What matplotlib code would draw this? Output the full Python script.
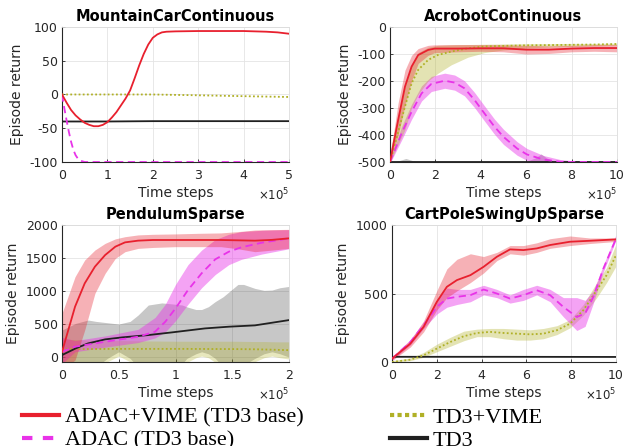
import matplotlib
matplotlib.use('Agg')
import matplotlib.pyplot as plt
from matplotlib.lines import Line2D
from matplotlib.ticker import FuncFormatter

plt.rcParams['font.family'] = 'DejaVu Sans'
plt.rcParams['axes.unicode_minus'] = False

# colours for the four methods
RED = '#e8202e'
MAG = '#e833e8'
OLV = '#b0b026'
BLK = '#202020'

# ---------------- MountainCarContinuous (x in 1e5 steps) ----------------
mc_red_x = [0, 0.1, 0.2, 0.3, 0.4, 0.5, 0.6, 0.7, 0.8, 0.9, 1.0, 1.1, 1.2, 1.3, 1.4,
            1.5, 1.6, 1.7, 1.8, 1.9, 2.0, 2.1, 2.2, 2.3, 2.5, 3.0, 3.5, 4.0, 4.5, 4.75, 5.0]
mc_red = [0, -12, -23, -31, -37, -42, -45, -47, -47, -45, -41, -34, -26, -16, -6,
          6, 24, 43, 60, 74, 84, 89, 92, 93, 93.5, 94, 94, 94, 93, 92, 90]
mc_mag_x = [0, 0.05, 0.1, 0.15, 0.2, 0.25, 0.3, 0.35, 0.4, 0.5, 5.0]
mc_mag = [0, -20, -38, -55, -70, -82, -90, -95, -98, -100, -100]
mc_olv_x = [0, 1, 2, 3, 4, 5]
mc_olv = [0, 0, 0, -1.2, -2.5, -3.7]
mc_blk_x = [0, 1, 2, 3, 4, 5]
mc_blk = [-40, -40, -39.5, -39.5, -39.5, -39.5]

# ---------------- AcrobotContinuous ----------------
ac_red_x = [0, 0.36, 0.66, 0.95, 1.24, 1.68, 1.97, 3, 4, 5, 6, 7, 8, 9, 10]
ac_red = [-500, -344, -221, -147, -104, -85, -80, -80, -79, -79, -84, -84, -80, -78, -78]
ac_red_hi = [-480, -280, -160, -105, -80, -68, -66, -65, -65, -66, -68, -70, -68, -65, -65]
ac_red_lo = [-500, -400, -290, -200, -135, -105, -95, -92, -90, -92, -100, -98, -92, -90, -92]
ac_olv_x = [0, 0.66, 0.95, 1.24, 1.68, 2.1, 2.7, 3.43, 4.16, 5, 6, 7, 8, 9, 10]
ac_olv = [-500, -295, -209, -159, -122, -104, -91, -79, -72, -70, -68, -67, -66, -65, -63]
ac_olv_hi = [-460, -220, -140, -95, -75, -68, -66, -65, -64, -63, -62, -62, -61, -61, -60]
ac_olv_lo = [-500, -380, -300, -250, -200, -172, -140, -112, -95, -85, -78, -74, -72, -70, -68]
ac_mag_x = [0, 0.51, 0.95, 1.39, 1.82, 2.41, 2.85, 3.28, 3.72, 4.16, 4.6, 5.0, 5.6, 6.03,
            6.76, 7.5, 8, 9, 10]
ac_mag = [-500, -394, -314, -246, -211, -199, -206, -227, -270, -320, -369, -407, -450, -472,
          -491, -499, -500, -500, -500]
ac_mag_sd = [5, 25, 28, 28, 28, 28, 28, 28, 28, 28, 28, 28, 25, 22, 15, 8, 5, 3, 0]
ac_blk_x = [0, 0.4, 0.7, 1.0, 1.5, 6.0, 6.4, 6.65, 6.9, 7.3, 10]
ac_blk = [-499, -499, -499, -499, -499, -499, -499, -499, -499, -499, -499]
ac_blk_hi = [-500, -495, -487, -495, -500, -498, -485, -470, -485, -500, -500]

# ---------------- PendulumSparse ----------------
pe_red_x = [0, 0.115, 0.2, 0.29, 0.38, 0.47, 0.555, 0.67, 0.8, 1.0, 1.2, 1.4, 1.55, 1.7, 1.85, 2.0]
pe_red = [80, 763, 1116, 1369, 1545, 1672, 1737, 1763, 1773, 1773, 1773, 1773, 1768, 1763, 1775, 1798]
pe_red_hi = [662, 1217, 1470, 1621, 1722, 1790, 1823, 1850, 1859, 1865, 1874, 1880, 1900, 1924, 1930, 1934]
pe_red_lo = [-200, -45, 409, 965, 1268, 1495, 1596, 1646, 1660, 1672, 1672, 1672, 1640, 1596, 1620, 1646]
pe_mag_x = [0, 0.115, 0.38, 0.67, 0.82, 0.91, 1.0, 1.11, 1.23, 1.35, 1.47, 1.58, 1.76, 2.0]
pe_mag = [81, 157, 232, 308, 384, 535, 737, 1015, 1268, 1480, 1596, 1662, 1732, 1798]
pe_mag_hi = [300, 250, 320, 420, 600, 800, 1100, 1400, 1620, 1780, 1860, 1900, 1920, 1930]
pe_mag_lo = [-100, 80, 150, 220, 290, 380, 550, 800, 1050, 1250, 1400, 1480, 1560, 1640]
pe_blk_x = [0, 0.12, 0.23, 0.38, 0.53, 0.76, 0.97, 1.26, 1.47, 1.7, 1.85, 2.0]
pe_blk = [30, 131, 207, 268, 298, 333, 374, 434, 460, 480, 520, 560]
pe_gry_x = [0, 0.12, 0.23, 0.3, 0.4, 0.5, 0.6, 0.67, 0.76, 0.88, 1.0, 1.06, 1.1, 1.18, 1.23,
            1.29, 1.35, 1.42, 1.55, 1.6, 1.7, 1.78, 1.85, 1.92, 2.0]
pe_gry_hi = [409, 510, 561, 540, 520, 500, 540, 636, 788, 820, 800, 788, 760, 720, 720,
             763, 840, 914, 1100, 1100, 1040, 1010, 1015, 1050, 1070]
pe_gry_lo = [-300, -250, -200, -150, -20, 80, -20, -150, -250, -250, -200, -100, -20, 50, 80,
             50, -20, -150, -200, -120, -20, 50, 80, 50, 0]
pe_olv_x = [0, 0.3, 0.4, 0.5, 0.6, 0.7, 1.0, 1.1, 1.18, 1.23, 1.29, 1.35, 1.5, 1.7, 1.78,
            1.85, 1.92, 2.0]
pe_olv = [120, 122, 123, 124, 124, 124, 124, 124, 123, 123, 122, 122, 121, 118, 115, 112, 108, 105]
pe_olv_hi = [270, 255, 250, 250, 248, 245, 240, 240, 240, 240, 240, 240, 240, 235, 235, 232, 230, 230]
pe_olv_lo = [-100, -100, -70, 15, -70, -100, -100, -80, -10, 15, -10, -80, -100, -70, -10,
             15, -10, -30]

# ---------------- CartPoleSwingUpSparse ----------------
cp_red_x = [0, 0.82, 1.41, 2.0, 2.45, 2.9, 3.5, 4.09, 4.68, 5.27, 5.87, 6.46, 7.06, 7.95, 8.84, 10]
cp_red = [24, 134, 256, 439, 549, 598, 634, 695, 768, 822, 817, 829, 854, 878, 885, 895]
cp_red_hi = [40, 160, 300, 520, 680, 750, 790, 770, 800, 850, 850, 870, 900, 920, 905, 905]
cp_red_lo = [10, 110, 220, 380, 470, 520, 580, 650, 740, 790, 780, 800, 830, 850, 865, 880]
cp_mag_x = [0, 0.82, 1.41, 2.0, 2.45, 2.9, 3.5, 4.09, 4.68, 5.27, 5.87, 6.46, 7.06, 7.65, 8.25,
            8.62, 8.99, 9.44, 10]
cp_mag = [24, 146, 268, 402, 463, 476, 488, 529, 500, 463, 488, 524, 488, 402, 329, 354, 476, 683, 900]
cp_mag_hi = [35, 165, 290, 450, 540, 530, 530, 560, 530, 490, 530, 560, 530, 470, 470, 450, 520, 710, 930]
cp_mag_lo = [15, 125, 245, 350, 400, 420, 440, 490, 470, 430, 450, 490, 440, 330, 230, 260, 430, 660, 890]
cp_olv_x = [0, 0.82, 1.41, 2.0, 2.6, 3.2, 3.79, 4.38, 4.98, 5.57, 6.17, 6.76, 7.36, 7.95, 8.54,
            9.14, 9.58, 10]
cp_olv = [0, 17, 49, 98, 146, 188, 212, 220, 212, 207, 202, 207, 232, 280, 378, 524, 634, 780]
cp_olv_hi = [10, 30, 70, 130, 180, 225, 240, 245, 245, 240, 235, 245, 265, 310, 420, 580, 690, 860]
cp_olv_lo = [0, 10, 35, 75, 115, 155, 185, 185, 170, 160, 160, 170, 200, 250, 340, 470, 580, 700]
cp_blk_x = [0, 5, 10]
cp_blk = [38, 38, 37]

titles = ['MountainCarContinuous', 'AcrobotContinuous', 'PendulumSparse', 'CartPoleSwingUpSparse']
legend_labels = ['ADAC+VIME (TD3 base)', 'ADAC (TD3 base)', 'TD3+VIME', 'TD3']

fig = plt.figure(figsize=(6.25, 4.46), dpi=100)
ax_mc = fig.add_axes([0.0992, 0.6368, 0.3632, 0.3027])
ax_ac = fig.add_axes([0.624, 0.6368, 0.3632, 0.3027])
ax_pe = fig.add_axes([0.0992, 0.1883, 0.3632, 0.3072])
ax_cp = fig.add_axes([0.6272, 0.1883, 0.3584, 0.3072])

LW = 1.3
dash = (4, 2.5)
dots = (1, 1.3)


def mean_line(ax, x, y, kind):
    if kind == 'red':
        ax.plot(x, y, color=RED, lw=LW, zorder=5)
    elif kind == 'mag':
        ax.plot(x, y, color=MAG, lw=LW, dashes=dash, zorder=5)
    elif kind == 'olv':
        ax.plot(x, y, color=OLV, lw=LW, dashes=dots, zorder=5)
    else:
        ax.plot(x, y, color=BLK, lw=LW, zorder=5)


# MountainCar
mean_line(ax_mc, mc_blk_x, mc_blk, 'blk')
mean_line(ax_mc, mc_olv_x, mc_olv, 'olv')
mean_line(ax_mc, mc_mag_x, mc_mag, 'mag')
mean_line(ax_mc, mc_red_x, mc_red, 'red')

# Acrobot
ac_mag_hi = [m + s for m, s in zip(ac_mag, ac_mag_sd)]
ac_mag_lo = [m - s for m, s in zip(ac_mag, ac_mag_sd)]
ax_ac.fill_between(ac_blk_x, [-500] * len(ac_blk_x), ac_blk_hi, color='k', alpha=0.22, lw=0)
ax_ac.fill_between(ac_mag_x, ac_mag_lo, ac_mag_hi, color=MAG, alpha=0.45, lw=0)
ax_ac.fill_between(ac_olv_x, ac_olv_lo, ac_olv_hi, color=OLV, alpha=0.35, lw=0)
ax_ac.fill_between(ac_red_x, ac_red_lo, ac_red_hi, color=RED, alpha=0.35, lw=0)
mean_line(ax_ac, ac_blk_x, ac_blk, 'blk')
mean_line(ax_ac, ac_mag_x, ac_mag, 'mag')
mean_line(ax_ac, ac_olv_x, ac_olv, 'olv')
mean_line(ax_ac, ac_red_x, ac_red, 'red')

# Pendulum
ax_pe.fill_between(pe_gry_x, pe_gry_lo, pe_gry_hi, color='k', alpha=0.22, lw=0)
ax_pe.fill_between(pe_olv_x, pe_olv_lo, pe_olv_hi, color=OLV, alpha=0.3, lw=0)
ax_pe.fill_between(pe_mag_x, pe_mag_lo, pe_mag_hi, color=MAG, alpha=0.45, lw=0)
ax_pe.fill_between(pe_red_x, pe_red_lo, pe_red_hi, color=RED, alpha=0.35, lw=0)
mean_line(ax_pe, pe_olv_x, pe_olv, 'olv')
mean_line(ax_pe, pe_blk_x, pe_blk, 'blk')
mean_line(ax_pe, pe_mag_x, pe_mag, 'mag')
mean_line(ax_pe, pe_red_x, pe_red, 'red')

# CartPole
ax_cp.fill_between(cp_olv_x, cp_olv_lo, cp_olv_hi, color=OLV, alpha=0.35, lw=0)
ax_cp.fill_between(cp_mag_x, cp_mag_lo, cp_mag_hi, color=MAG, alpha=0.45, lw=0)
ax_cp.fill_between(cp_red_x, cp_red_lo, cp_red_hi, color=RED, alpha=0.35, lw=0)
mean_line(ax_cp, cp_blk_x, cp_blk, 'blk')
mean_line(ax_cp, cp_olv_x, cp_olv, 'olv')
mean_line(ax_cp, cp_mag_x, cp_mag, 'mag')
mean_line(ax_cp, cp_red_x, cp_red, 'red')

# axes styling, MATLAB-ish look
limits = [((0, 5), (-100, 100)), ((0, 10), (-500, 0)), ((0, 2), (-75, 2000)), ((0, 10), (0, 1000))]
yticks = [[-100, -50, 0, 50, 100], [-500, -400, -300, -200, -100, 0],
          [0, 500, 1000, 1500, 2000], [0, 500, 1000]]
xticks = [[0, 1, 2, 3, 4, 5], [0, 2, 4, 6, 8, 10], [0, 0.5, 1, 1.5, 2], [0, 2, 4, 6, 8, 10]]

for ax, title, (xl, yl), yt, xt in zip([ax_mc, ax_ac, ax_pe, ax_cp], titles, limits, yticks, xticks):
    ax.set_xlim(xl)
    ax.set_ylim(yl)
    ax.set_xticks(xt)
    ax.set_yticks(yt)
    ax.xaxis.set_major_formatter(FuncFormatter(lambda v, p: '%g' % v))
    ax.grid(True, color='#e4e4e4', lw=0.6)
    ax.set_axisbelow(True)
    for s in ['left', 'bottom']:
        ax.spines[s].set_color('#262626')
        ax.spines[s].set_linewidth(0.8)
    for s in ['top', 'right']:
        ax.spines[s].set_color('#dcdcdc')
        ax.spines[s].set_linewidth(0.6)
    ax.tick_params(direction='in', length=2.5, width=0.6, labelsize=9, colors='#262626')
    ax.tick_params(axis='x', pad=5)
    ax.tick_params(axis='y', pad=3)
    ax.set_title(title, fontsize=10.5, fontweight='bold', pad=4)
    ax.set_xlabel('Time steps', fontsize=10, color='#262626', labelpad=3)
    ax.set_ylabel('Episode return', fontsize=10, color='#262626', labelpad=4)
    ax.annotate(r'$\times10^5$', xy=(1, 0), xycoords='axes fraction', xytext=(0, -24),
                textcoords='offset points', ha='right', va='center', fontsize=8.5,
                color='#262626')

handles = [Line2D([], [], color=RED, lw=3),
           Line2D([], [], color=MAG, lw=3, dashes=(2.5, 2.5)),
           Line2D([], [], color=OLV, lw=3, dashes=(1, 0.8)),
           Line2D([], [], color=BLK, lw=3)]
fig.legend(handles, legend_labels, loc='upper left', bbox_to_anchor=(22 / 625, 0.0865),
           ncol=2, frameon=False, prop={'family': 'Liberation Serif', 'size': 16},
           handlelength=1.67, handletextpad=0.25, columnspacing=3.9, labelspacing=0.1,
           borderpad=0, borderaxespad=0)

fig.savefig('out.png', dpi=100)
